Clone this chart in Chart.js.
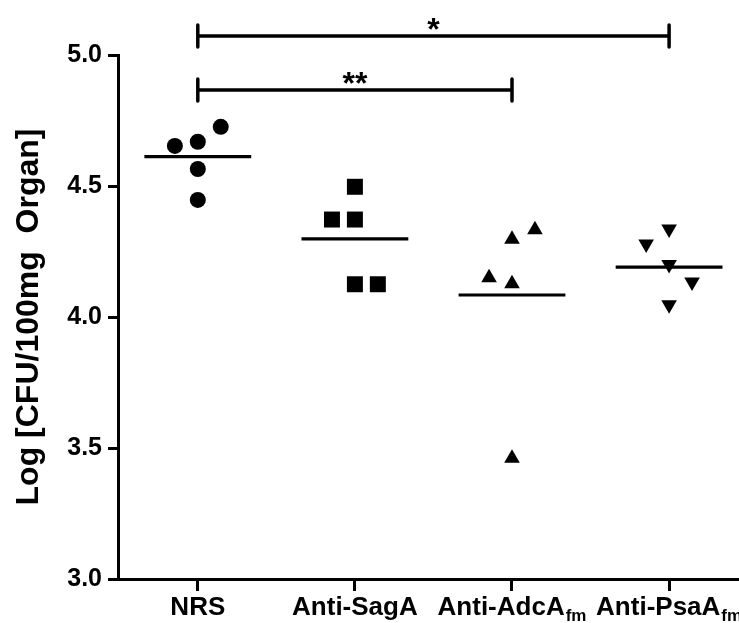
<!DOCTYPE html>
<html>
<head>
<meta charset="utf-8">
<script src="https://cdn.jsdelivr.net/npm/chart.js@4/dist/chart.umd.min.js"></script>
<style>
  html, body { margin: 0; padding: 0; background: #fff; overflow: hidden; }
  #wrap { width: 739px; height: 623px; }
  canvas { display: block; }
</style>
</head>
<body>
<div id="wrap"><canvas id="myChart" width="739" height="623"></canvas></div>
<script>
const categories = ["NRS", "Anti-SagA", "Anti-AdcA", "Anti-PsaA"];
const subscripts = ["", "", "fm", "fm"];
const yTicks = [3.0, 3.5, 4.0, 4.5, 5.0];

// log CFU per animal, and the horizontal jitter of each dot (in category units)
const nrsValues = [4.653, 4.669, 4.726, 4.565, 4.447];
const nrsJitter = [-0.146, 0, 0.146, 0, 0];
const sagaValues = [4.497, 4.372, 4.372, 4.125, 4.125];
const sagaJitter = [0, -0.146, 0, 0, 0.146];
const adcaValues = [4.297, 4.333, 4.150, 4.127, 3.461];
const adcaJitter = [0, 0.146, -0.146, 0, 0];
const psaaValues = [4.336, 4.279, 4.200, 4.134, 4.047];
const psaaJitter = [0, -0.146, 0, 0.146, 0];

const groupMeans = [4.612, 4.298, 4.084, 4.190];

// significance brackets: from group, to group, bracket height, label
const compFrom = [0, 0];
const compTo = [2, 3];
const compLevel = [4.866, 5.0725];
const compLabel = ["**", "*"];

const FONT = "'Liberation Sans', Arial, Helvetica, sans-serif";
const MEAN_HALF = 0.34;
const CAP = 0.042;

function toPoints(idx, vals, jit) {
  return vals.map((v, k) => ({ x: idx + jit[k], y: v }));
}

const datasets = [
  { data: toPoints(0, nrsValues, nrsJitter), pointStyle: "circle", pointRadius: 8 },
  { data: toPoints(1, sagaValues, sagaJitter), pointStyle: "rect", pointRadius: 11.3 },
  { data: toPoints(2, adcaValues, adcaJitter), pointStyle: "triangle", pointRadius: 9 },
  { data: toPoints(3, psaaValues, psaaJitter), pointStyle: "triangle", pointRadius: 9, rotation: 180 },
].map((d) => Object.assign(d, {
  showLine: false,
  backgroundColor: "#000",
  borderColor: "#000",
  borderWidth: 0,
  pointHoverRadius: d.pointRadius,
}));

// mean lines
groupMeans.forEach((m, i) => {
  datasets.push({
    data: [{ x: i - MEAN_HALF, y: m }, { x: i + MEAN_HALF, y: m }],
    showLine: true,
    borderColor: "#000",
    borderWidth: 3.2,
    pointRadius: 0,
  });
});

// brackets
compFrom.forEach((f, i) => {
  const t = compTo[i];
  const lv = compLevel[i];
  datasets.push({
    data: [
      { x: f, y: lv + CAP }, { x: f, y: lv - CAP }, { x: f, y: null },
      { x: f, y: lv }, { x: t, y: lv }, { x: t, y: null },
      { x: t, y: lv + CAP }, { x: t, y: lv - CAP },
    ],
    showLine: true,
    spanGaps: false,
    borderColor: "#000",
    borderWidth: 3.5,
    borderCapStyle: "round",
    pointRadius: 0,
    clip: false,
  });
});

const labelsPlugin = {
  id: "labelsPlugin",
  afterDraw(chart) {
    const ctx = chart.ctx;
    const xs = chart.scales.x;
    const ys = chart.scales.y;
    ctx.save();
    ctx.fillStyle = "#000";
    ctx.textBaseline = "alphabetic";
    // category labels with subscripts
    categories.forEach((c, i) => {
      const x = xs.getPixelForValue(i);
      ctx.font = "bold 26px " + FONT;
      const w1 = ctx.measureText(c).width;
      ctx.font = "bold 17px " + FONT;
      const w2 = subscripts[i] ? ctx.measureText(subscripts[i]).width + 1 : 0;
      const left = x - (w1 + w2) / 2;
      ctx.textAlign = "left";
      ctx.font = "bold 26px " + FONT;
      ctx.fillText(c, left, 615);
      if (subscripts[i]) {
        ctx.font = "bold 17px " + FONT;
        ctx.fillText(subscripts[i], left + w1 + 1, 621);
      }
    });
    // stars above brackets
    ctx.textAlign = "center";
    ctx.font = "bold 32px " + FONT;
    compFrom.forEach((f, i) => {
      const x = (xs.getPixelForValue(f) + xs.getPixelForValue(compTo[i])) / 2;
      const y = ys.getPixelForValue(compLevel[i]);
      ctx.fillText(compLabel[i], x, y + 4);
    });
    ctx.restore();
  },
};

const ctx = document.getElementById("myChart").getContext("2d");
const myChart = new Chart(ctx, {
  type: "scatter",
  data: { datasets: datasets },
  plugins: [labelsPlugin],
  options: {
    responsive: false,
    animation: false,
    layout: { autoPadding: false, padding: { top: 55, right: 0, bottom: 0, left: 0 } },
    plugins: {
      legend: { display: false },
      tooltip: { enabled: false },
    },
    scales: {
      x: {
        type: "linear",
        min: -0.508,
        max: 3.445,
        afterBuildTicks: (s) => { s.ticks = categories.map((c, i) => ({ value: i })); },
        afterFit: (s) => { s.height = 44; s.paddingLeft = 0; s.paddingRight = 0; },
        ticks: { display: false },
        grid: {
          drawOnChartArea: false,
          drawTicks: true,
          tickLength: 12,
          tickWidth: 3,
          color: "#000",
        },
        border: { display: true, color: "#000", width: 3 },
      },
      y: {
        type: "linear",
        min: 3,
        max: 5,
        afterBuildTicks: (s) => { s.ticks = yTicks.map((v) => ({ value: v })); },
        afterFit: (s) => { s.width = 118; },
        ticks: {
          color: "#000",
          padding: 6,
          font: { family: FONT, size: 25, weight: "bold" },
          callback: (v) => Number(v).toFixed(1),
        },
        grid: {
          drawOnChartArea: false,
          drawTicks: true,
          tickLength: 10,
          tickWidth: 3,
          color: "#000",
        },
        border: { display: true, color: "#000", width: 3 },
        title: {
          display: true,
          text: "Log [CFU/100mg  Organ]",
          color: "#000",
          font: { family: FONT, size: 32, weight: "bold" },
          padding: { top: 10, bottom: 0 },
        },
      },
    },
  },
});
</script>
</body>
</html>
